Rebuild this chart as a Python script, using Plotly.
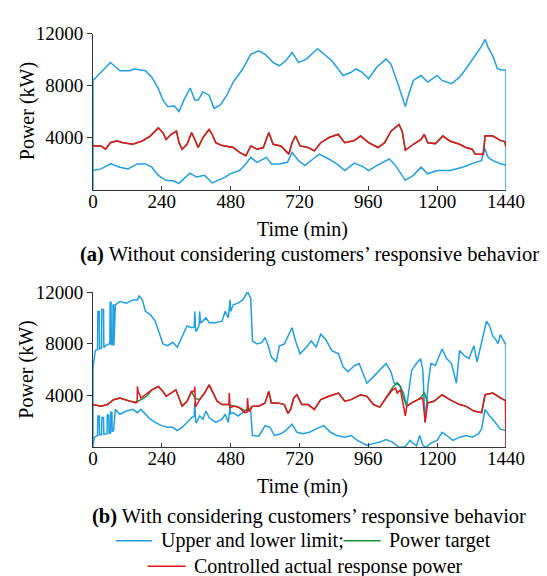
import plotly.graph_objects as go

W, H = 547, 576

# ---------------- (a) data ----------------
a_up_t = [0, 0, 28, 61, 94, 128, 144, 183, 205, 228, 244, 261, 283, 300, 317, 339, 355, 367, 383, 405, 422, 444,
          467, 489, 522, 550, 578, 600, 628, 650, 672, 694, 717, 744, 783, 806, 833, 872, 900, 917, 939, 961, 989,
          1022, 1039, 1061, 1078, 1089, 1100, 1117, 1144, 1167, 1200, 1217, 1250, 1278, 1300, 1333, 1355, 1367,
          1378, 1394, 1410, 1425, 1440, 1440]
a_up_v = [0, 8400, 9030, 9780, 9150, 9150, 9280, 9150, 8650, 7770, 6890, 6390, 6450, 6010, 6890, 7820, 6890, 6890,
          7520, 7270, 6260, 6520, 7270, 8280, 9280, 10410, 10670, 10410, 9790, 9530, 9910, 10540, 9790, 10040,
          10840, 10410, 9910, 8780, 9030, 9280, 9030, 8530, 9410, 10040, 9660, 8280, 7150, 6390, 7270, 8400, 8780,
          8280, 8780, 8400, 8150, 8650, 9280, 10290, 11040, 11550, 10920, 10290, 9300, 9200, 9200, 0]

a_lo_t = [0, 28, 61, 94, 122, 155, 183, 205, 228, 255, 283, 300, 317, 339, 361, 389, 416, 439, 461, 478, 511, 533,
          550, 572, 605, 622, 650, 678, 694, 717, 739, 767, 789, 822, 850, 878, 911, 944, 961, 989, 1033, 1055, 1078,
          1089, 1117, 1144, 1167, 1200, 1244, 1289, 1333, 1355, 1364, 1378, 1394, 1420, 1440]
a_lo_v = [1480, 1610, 1990, 1740, 1610, 1990, 1990, 1740, 1110, 730, 680, 480, 860, 1280, 980, 1110, 530, 730, 980,
          1230, 1480, 1990, 2490, 2110, 2490, 1990, 1990, 2110, 2870, 2240, 1860, 2370, 2740, 2370, 1990, 1480, 2050,
          1740, 1480, 1860, 2370, 1860, 1110, 730, 1110, 1740, 1230, 1480, 1480, 1740, 2110, 2240, 3250, 2490, 2240,
          2000, 1900]

a_act_t = [0, 28, 44, 61, 83, 105, 139, 172, 200, 228, 244, 255, 272, 291, 300, 311, 328, 344, 355, 367, 383, 405,
           416, 428, 447, 467, 489, 511, 533, 550, 572, 594, 613, 628, 655, 672, 683, 694, 706, 722, 750, 772, 794,
           822, 855, 878, 911, 933, 961, 994, 1017, 1039, 1067, 1078, 1089, 1117, 1144, 1155, 1167, 1194, 1220, 1244,
           1278, 1300, 1322, 1333, 1361, 1367, 1394, 1420, 1435, 1440]
a_act_v = [3370, 3370, 3120, 3620, 3750, 3620, 3500, 3750, 4130, 4750, 4380, 3870, 4250, 4500, 3620, 3120, 3500, 4380,
           3870, 3250, 4000, 4630, 4250, 3620, 3430, 3370, 3250, 2870, 2620, 3370, 3120, 3250, 4380, 3500, 3370, 2990,
           2740, 3620, 4130, 3370, 3250, 2990, 3620, 4000, 4250, 3620, 3780, 4130, 3620, 3250, 3620, 4500, 5010, 4500,
           3040, 3500, 3870, 4250, 3620, 3550, 4130, 3750, 3500, 3250, 3120, 2740, 2740, 4130, 4130, 3800, 3700, 3300]
a_tgt_t = a_act_t
a_tgt_v = [3400, 3370, 3120, 3640, 3760, 3620, 3500, 3760, 4150, 4780, 4380, 3870, 4270, 4520, 3620, 3120, 3500, 4400,
           3870, 3250, 4000, 4650, 4250, 3620, 3430, 3370, 3250, 2870, 2620, 3370, 3120, 3250, 4400, 3500, 3370, 2990,
           2740, 3620, 4150, 3370, 3250, 2990, 3620, 4020, 4270, 3620, 3780, 4150, 3620, 3250, 3620, 4520, 5030, 4500,
           3040, 3500, 3870, 4270, 3620, 3550, 4150, 3750, 3500, 3250, 3120, 2740, 2740, 4150, 4150, 3800, 3700, 3300]

# ---------------- (b) data ----------------
b_up_t = [0, 0, 8, 16, 17, 22, 23, 30, 31, 37, 38, 44, 55, 59, 60, 63, 64, 69, 70, 72, 73, 78, 94, 117, 139, 155,
          161, 172, 183, 200, 217, 228, 244, 261, 278, 294, 311, 328, 344, 353, 355, 358, 361, 370, 372, 375, 383,
          394, 405, 428, 450, 461, 472, 478, 480, 489, 506, 522, 539, 550, 556, 572, 589, 600, 611, 622, 639, 650,
          667, 683, 694, 706, 722, 744, 761, 778, 794, 811, 833, 856, 872, 889, 911, 928, 939, 955, 978, 1000, 1022,
          1039, 1050, 1067, 1083, 1094, 1111, 1128, 1142, 1150, 1158, 1169, 1178, 1194, 1217, 1233, 1250, 1267,
          1278, 1294, 1311, 1328, 1339, 1355, 1372, 1383, 1394, 1405, 1412, 1420, 1435, 1440, 1440]
b_up_v = [0, 6090, 7470, 7550, 10500, 10500, 7600, 7650, 10650, 10650, 7700, 7850, 7980, 8000, 11200, 11200, 7950,
          7950, 11000, 11000, 7850, 11010, 11260, 11140, 11390, 11390, 11720, 11390, 10510, 10260, 9750, 8990, 7980,
          7850, 8110, 7730, 8490, 9370, 9240, 9300, 10500, 9000, 8990, 9400, 10500, 9600, 9750, 10010, 9630, 9630,
          9750, 10510, 10010, 11390, 10500, 11010, 11140, 11390, 12020, 11520, 8230, 7980, 8110, 8490, 7850, 6970,
          6600, 7850, 7980, 8740, 9240, 8230, 7220, 7730, 8230, 7730, 8740, 8360, 7470, 7220, 6220, 5840, 6300,
          6470, 5800, 4950, 5460, 5960, 6470, 5840, 4950, 4820, 4190, 3180, 5960, 6470, 6850, 5960, 1920, 4950, 6470,
          6340, 7600, 6850, 6470, 4950, 7470, 7100, 6850, 7850, 6600, 8110, 9750, 9370, 8610, 8300, 8000, 8700,
          8000, 7900, 0]

b_lo_t = [0, 5, 16, 17, 22, 23, 30, 31, 37, 38, 49, 50, 55, 56, 61, 62, 66, 67, 72, 78, 94, 117, 139, 155, 167, 183,
          200, 217, 239, 261, 278, 294, 311, 328, 344, 353, 355, 358, 361, 372, 383, 394, 405, 428, 450, 461, 472,
          478, 480, 489, 506, 522, 539, 550, 556, 578, 600, 617, 633, 655, 672, 694, 711, 733, 755, 778, 805, 828,
          850, 878, 900, 922, 944, 955, 978, 1000, 1022, 1044, 1067, 1089, 1105, 1128, 1139, 1150, 1161, 1178, 1200,
          1217, 1233, 1255, 1278, 1300, 1322, 1344, 1355, 1367, 1383, 1394, 1420, 1440]
b_lo_v = [150, 780, 900, 2420, 2420, 950, 1000, 2300, 2300, 1000, 1050, 2500, 2500, 1080, 1100, 2700, 2700, 1200,
          1300, 2930, 2550, 2800, 2930, 2670, 2930, 2550, 2170, 1920, 1670, 1540, 1540, 1290, 1540, 1920, 2300, 2400,
          3430, 2000, 1920, 2420, 2170, 2800, 2300, 1920, 2170, 2550, 1920, 3180, 2600, 2670, 2420, 2670, 2930, 2800,
          910, 860, 1670, 1540, 910, 1040, 1290, 1790, 1160, 1040, 1160, 1420, 1670, 1160, 910, 780, 910, 530, 280,
          150, 280, 400, 600, 400, 0, 50, 530, 100, 910, 150, 0, 320, 530, 1160, 910, 530, 780, 910, 780, 1040, 1420,
          2930, 2420, 2170, 1400, 1300]

b_act_t = [0, 28, 50, 72, 94, 128, 150, 154, 155, 158, 161, 167, 183, 205, 228, 244, 255, 272, 289, 300, 311, 328,
           344, 353, 355, 357, 359, 372, 389, 405, 416, 433, 450, 467, 474, 475, 478, 494, 511, 528, 537, 539, 542,
           547, 556, 578, 600, 613, 622, 644, 667, 680, 689, 700, 711, 728, 750, 772, 794, 822, 856, 878, 900, 933,
           955, 978, 1000, 1022, 1044, 1055, 1061, 1072, 1078, 1089, 1094, 1111, 1133, 1150, 1158, 1167, 1189, 1217,
           1244, 1278, 1300, 1328, 1355, 1367, 1394, 1420, 1438, 1440]
b_act_v = [3300, 3180, 3300, 3680, 3810, 3560, 3430, 3500, 4700, 4200, 4190, 3810, 4060, 4440, 4700, 4320, 3940,
           4190, 4440, 3810, 3180, 3560, 4320, 4300, 4700, 3180, 3180, 3680, 4190, 4820, 4320, 3560, 3300, 3300, 3300,
           4190, 3060, 3180, 3060, 2680, 2700, 3810, 2800, 2800, 3180, 3180, 3430, 4320, 3430, 3430, 3300, 2620, 2930,
           3810, 4060, 3300, 3300, 2930, 3680, 3940, 4190, 3560, 3680, 4060, 3940, 3300, 3100, 3810, 4440, 4570, 4190,
           4440, 3810, 2420, 3180, 3430, 3680, 3810, 1920, 3430, 3560, 4060, 3680, 3300, 3180, 2800, 2670, 4060, 4190,
           3800, 3600, 0]

b_tgt_t = [0, 28, 50, 72, 94, 128, 150, 170, 190, 205, 228, 244, 255, 272, 289, 300, 311, 328, 344, 355, 372, 389,
           405, 416, 433, 450, 467, 494, 511, 528, 545, 556, 578, 600, 613, 622, 644, 667, 680, 689, 700, 711, 728, 750,
           772, 794, 822, 856, 878, 900, 933, 955, 978, 1000, 1022, 1044, 1061, 1072, 1083, 1094, 1111, 1133, 1145,
           1155, 1167, 1189, 1217, 1244, 1278, 1300, 1328, 1355, 1367, 1394, 1420, 1440]
b_tgt_v = [3300, 3180, 3300, 3680, 3810, 3560, 3500, 3700, 4000, 4440, 4700, 4320, 3940, 4190, 4440, 3810, 3180, 3560,
           4320, 3800, 3680, 4190, 4820, 4320, 3560, 3300, 3300, 3180, 3060, 2850, 2950, 3180, 3180, 3430, 4320, 3430,
           3430, 3300, 2620, 2930, 3810, 4060, 3300, 3300, 2930, 3680, 3940, 4190, 3560, 3680, 4060, 3940, 3300, 3100,
           3810, 4600, 5000, 4700, 3800, 3180, 3430, 3680, 3900, 4240, 3430, 3560, 4060, 3680, 3300, 3180, 2800, 2670,
           4060, 4190, 3800, 3600]

x_ticks = [0, 240, 480, 720, 960, 1200, 1440]
x_tick_labels = ["0", "240", "480", "720", "960", "1200", "1440"]
y_ticks = [4000, 8000, 12000]
y_tick_labels = ["4000", "8000", "12000"]

BLUE = "#1E9FE3"
GREEN = "#1B8F3A"
RED = "#E8141C"
FONT = "Liberation Serif"

fig = go.Figure()


def add(t, v, color, xa, ya):
    fig.add_trace(go.Scatter(x=t, y=v, mode="lines", line=dict(color=color, width=1.5),
                             xaxis=xa, yaxis=ya, showlegend=False, hoverinfo="skip"))


# (a)
add(a_up_t, a_up_v, BLUE, "x", "y")
add(a_lo_t, a_lo_v, BLUE, "x", "y")
add(a_tgt_t, a_tgt_v, GREEN, "x", "y")
add(a_act_t, a_act_v, RED, "x", "y")
# (b)
add(b_up_t, b_up_v, BLUE, "x2", "y2")
add(b_lo_t, b_lo_v, BLUE, "x2", "y2")
add(b_tgt_t, b_tgt_v, GREEN, "x2", "y2")
add(b_act_t, b_act_v, RED, "x2", "y2")


def px(x):
    return x / W


def py(y):
    return 1 - y / H


xdom = [px(92), px(524)]
xa = dict(range=[0, 1440], tickvals=x_ticks, ticktext=x_tick_labels, ticks="inside", ticklen=4, tickcolor="#333",
          showline=True, linecolor="#333", linewidth=1, showgrid=False, zeroline=False,
          ticklabelstandoff=-6,
          tickfont=dict(family=FONT, size=19, color="black"), domain=xdom, mirror=False)
ya = dict(range=[0, 12000], tickvals=y_ticks, ticktext=y_tick_labels, ticks="outside", ticklen=5, tickcolor="#333",
          showline=True, linecolor="#333", linewidth=1, showgrid=False, zeroline=False,
          tickfont=dict(family=FONT, size=19, color="black"))

fig.update_layout(
    width=W, height=H, margin=dict(l=0, r=0, t=0, b=0),
    paper_bgcolor="white", plot_bgcolor="white",
    font=dict(family=FONT, size=19, color="black"),
    xaxis=dict(xa, anchor="y"),
    yaxis=dict(ya, domain=[py(183), py(24)], anchor="x"),
    xaxis2=dict(xa, anchor="y2"),
    yaxis2=dict(ya, domain=[py(445), py(287)], anchor="x2"),
)

ann = []


def text(x, y, s, anchor="center", size=19, angle=0):
    ann.append(dict(x=px(x), y=py(y), xref="paper", yref="paper", text=s, showarrow=False,
                    xanchor=anchor, yanchor="middle", textangle=angle,
                    font=dict(family=FONT, size=size, color="black")))


text(23, 103, "Power (kW)", size=20, angle=-90)
text(23, 366, "Power (kW)", size=20, angle=-90)
text(311, 223, "Time (min)", size=20)
text(311, 485, "Time (min)", size=20)
text(318, 249, "<b>(a)</b> Without considering customers\u2019 responsive behavior", size=20.5)
text(318, 515, "<b>(b)</b> With considering customers\u2019 responsive behavior", size=20.5)
text(161, 540, "Upper and lower limit;", anchor="left", size=20)
text(400, 540, "Power target", anchor="left", size=20)
text(196, 566, "Controlled actual response power", anchor="left", size=20)

shapes = []
for (x0, x1, y, c) in [(116, 154, 540, BLUE), (354, 393, 540, GREEN), (149, 189, 566, RED)]:
    shapes.append(dict(type="line", xref="paper", yref="paper", x0=px(x0), x1=px(x1), y0=py(y), y1=py(y),
                       line=dict(color=c, width=1.5)))

fig.update_layout(annotations=ann, shapes=shapes)
fig.write_html("out.html")
